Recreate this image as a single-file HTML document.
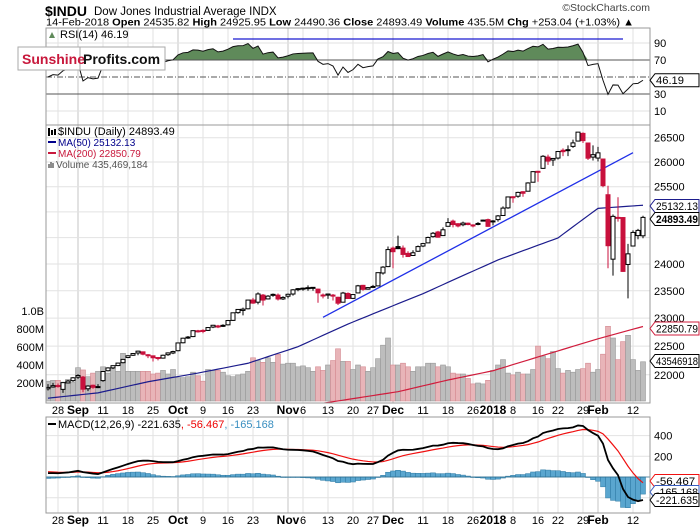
<!DOCTYPE html>
<html><head><meta charset="utf-8">
<style>
html,body{margin:0;padding:0;background:#fff;width:700px;height:530px;overflow:hidden;font-family:"Liberation Sans",sans-serif;}
svg text{font-family:"Liberation Sans",sans-serif;}
</style></head>
<body>
<svg id="chart" width="700" height="530" viewBox="0 0 700 530" xmlns="http://www.w3.org/2000/svg">
<defs>
<clipPath id="clipMain"><rect x="46" y="125" width="604" height="278"/></clipPath>
<clipPath id="clipRsi"><rect x="46" y="28" width="604" height="97"/></clipPath>
<clipPath id="clipMacd"><rect x="46" y="417" width="604" height="96"/></clipPath>
</defs>
<g id="grid"></g>
<g id="marks"></g>
<g id="frames">
<rect x="46" y="28" width="604" height="97" fill="none" stroke="#999"/>
<rect x="46" y="125" width="604" height="278" fill="none" stroke="#999"/>
<rect x="46" y="417" width="604" height="96" fill="none" stroke="#999"/>
</g>
<g>
<text x="45" y="16" font-size="14" font-weight="bold">$INDU</text>
<text x="94" y="15" font-size="11.5">Dow Jones Industrial Average  INDX</text>
<text x="46" y="25.5" font-size="10.5" textLength="588" lengthAdjust="spacingAndGlyphs">14-Feb-2018  <tspan font-weight="bold">Open</tspan> 24535.82  <tspan font-weight="bold">High</tspan> 24925.95  <tspan font-weight="bold">Low</tspan> 24490.36  <tspan font-weight="bold">Close</tspan> 24893.49  <tspan font-weight="bold">Volume</tspan> 435.5M  <tspan font-weight="bold">Chg</tspan> +253.04 (+1.03%) ▲</text>
<text x="650" y="11" font-size="10.5" text-anchor="end" fill="#444">©StockCharts.com</text>
</g>
<g>
<rect x="18" y="47" width="147" height="23" fill="#fff" stroke="#aaa"/>
<line x1="80" y1="47" x2="80" y2="70" stroke="#aaa"/>
<text x="22" y="64" font-size="14" font-weight="bold" fill="#c8183c">Sunshine</text>
<text x="83" y="64" font-size="14" font-weight="bold" fill="#111">Profits.com</text>
</g>
<g>
<text x="60" y="38" font-size="11">RSI(14) 46.19</text>
<path d="M49 38 l3-6 l3 6z" fill="#5f8a5a"/>
<text x="58" y="135" font-size="11">$INDU (Daily) 24893.49</text>
<path d="M49 128v8M52 130v5M55 129v6" stroke="#000" stroke-width="2"/>
<line x1="48" y1="142" x2="56" y2="142" stroke="#00008b" stroke-width="2"/>
<text x="58" y="146" font-size="10" fill="#00008b">MA(50) 25132.13</text>
<line x1="48" y1="153" x2="56" y2="153" stroke="#c8183c" stroke-width="2"/>
<text x="58" y="157" font-size="10" fill="#c8183c">MA(200) 22850.79</text>
<path d="M49 168v-4M51 168v-6M53 168v-5" stroke="#666" stroke-width="1.5"/>
<text x="56" y="168" font-size="10" fill="#555">Volume 435,469,184</text>
<line x1="48" y1="424" x2="56" y2="424" stroke="#000" stroke-width="2"/>
<text x="58" y="428" font-size="11">MACD(12,26,9) -221.635<tspan fill="#e00">, -56.467</tspan><tspan fill="#3a8fc0">, -165.168</tspan></text>
</g>
<g id="axes"></g>
</svg>
<script>
// ---- data ----
const closes = [21783,21813,21808,21865,21892,21948,
21988,21753,21807,21785,21797,22057,22119,22158,22203,22268,22331,22370,22412,22359,22349,22296,22284,22340,22381,22405,
22557,22641,22661,22775,22773,22761,22831,22872,22841,22871,22957,23097,23158,23163,23329,23274,23441,23329,23401,23434,23349,23377,
23435,23517,23539,23548,23557,23563,23462,23422,23440,23409,23272,23458,23358,23430,23591,23526,23558,23580,23836,23940,24272,
24232,24290,24180,24140,24211,24329,24386,24504,24585,24509,24652,24792,24754,24726,24782,24754,24746,24775,24838,24719,
24824,24922,25075,25296,25283,25386,25369,25575,25803,25792,26116,26018,26072,26214,26211,26252,26392,26616,26439,26077,26149,
26187,25521,24346,24913,24893,23860,24191,24601,24640,24893];
const opens = [21760,21790,21815,21750,21860,21900,
21960,21960,21760,21820,21790,21900,22070,22120,22160,22210,22300,22340,22380,22400,22340,22330,22300,22290,22350,22380,
22420,22560,22660,22670,22770,22780,22780,22840,22860,22860,22880,22960,23100,23140,23170,23330,23290,23420,23350,23420,23420,23350,
23400,23440,23520,23540,23550,23560,23530,23420,23420,23420,23380,23290,23450,23360,23460,23600,23530,23570,23590,23830,23950,
24300,24330,24300,24200,24160,24240,24340,24400,24520,24610,24540,24720,24820,24770,24750,24780,24740,24760,24840,24850,
24810,24850,24930,25080,25300,25310,25400,25410,25590,25810,25870,26100,26040,26080,26240,26240,26320,26430,26590,26390,26100,
26080,26060,25340,24090,24890,24890,23990,24340,24540,24536];
const highs = [21840,21860,21850,21870,21910,21960,
22010,21980,21820,21830,21840,22060,22130,22160,22210,22270,22340,22380,22420,22400,22360,22330,22310,22350,22390,22420,
22560,22650,22680,22780,22790,22800,22840,22880,22880,22890,22960,23100,23160,23190,23330,23370,23470,23440,23420,23450,23450,23400,
23450,23530,23550,23560,23600,23570,23540,23450,23450,23440,23390,23480,23470,23440,23610,23610,23570,23610,23840,23960,24330,
24330,24540,24350,24240,24260,24350,24400,24520,24610,24630,24700,24880,24850,24780,24810,24790,24760,24800,24850,24870,
24840,24940,25110,25300,25310,25400,25410,25590,25810,25820,26140,26150,26080,26220,26280,26340,26460,26620,26610,26400,26340,
26310,26060,25520,24950,25290,24900,24380,24640,24670,24926];
const lows = [21730,21780,21780,21690,21850,21880,
21930,21700,21720,21760,21770,21880,22060,22100,22150,22200,22290,22330,22340,22340,22290,22230,22250,22280,22330,22360,
22410,22550,22630,22660,22740,22730,22770,22820,22820,22840,22870,22950,23080,23050,23160,23260,23250,23230,23340,23390,23320,23330,
23360,23410,23490,23500,23500,23500,23280,23360,23350,23320,23240,23290,23350,23350,23460,23500,23520,23560,23580,23800,23940,
23920,24280,24120,24130,24150,24230,24320,24400,24500,24500,24540,24720,24700,24700,24720,24740,24700,24740,24820,24710,
24740,24810,24920,25060,25180,25280,25300,25410,25590,25600,25860,25940,25920,26050,26120,26120,26290,26420,26390,26040,26030,
26010,25490,23920,23780,24810,23850,23360,24340,24470,24490];
const volumes = [220,230,230,210,240,210,
370,345,270,310,330,380,310,360,330,530,330,330,330,330,330,300,310,340,300,350,
260,260,270,320,280,220,350,340,340,320,280,270,290,300,330,480,450,430,480,430,520,410,
420,420,380,390,370,330,380,340,400,450,580,440,440,350,400,380,330,370,470,620,700,
400,400,420,380,330,380,380,420,420,380,400,380,310,300,300,250,190,200,190,230,
340,400,460,310,290,320,300,300,350,610,500,470,550,360,310,340,320,350,360,420,320,
350,520,830,700,460,660,730,460,340,436];
const ma50Idx = [0,10,20,30,40,50,60,75,90,102,110,119];
const ma50Val = [21600,21690,21880,22030,22200,22490,22894,23446,24075,24495,25070,25132];
const ma200Idx = [0,20,40,57,70,80,89,98,110,119];
const ma200Val = [20950,21120,21320,21540,21710,21910,22070,22310,22630,22850];
const trendIdx = [55,117];
const trendVal = [23015,26190];
const dateLabels = ["28","Sep","11","18","25","Oct","9","16","23","Nov","6","13","20","27","Dec","11","18","26","2018","8","16","22","29","Feb","12"];
const dateLabelIdx = [2,6,11,16,21,26,31,36,41,48,51,56,61,65,69,75,80,85,89,93,98,102,107,110,117];
const monthLabels = ["Sep","Oct","Nov","Dec","2018","Feb"];
const priceTicks = [26500,26000,25500,25000,24500,24000,23500,23000,22500,22000];
const volTicks = [200,400,600,800,1000];
const volTickLabels = ["200M","400M","600M","800M","1.0B"];
const rsiTicks = [90,70,50,30,10];
const macdTicks = [400,200,0,-200];

// ---- axis functions ----
const X = i => 48 + 5*i;
const PY = p => 137.7 + 1274*Math.log(26500/p);
const VY = v => 401 - v*0.09;
const MY = v => 477 - v*0.1035;
const RY = v => 77 - (v-50)*0.85;
const NS = "http://www.w3.org/2000/svg";
function mk(tag, attrs, parent){const e=document.createElementNS(NS,tag);for(const k in attrs)e.setAttribute(k,attrs[k]);parent.appendChild(e);return e;}
const grid=document.getElementById('grid'), marks=document.getElementById('marks'), axes=document.getElementById('axes');

dateLabelIdx.forEach((d,k)=>{
  const strong = monthLabels.includes(dateLabels[k]);
  const c = strong ? "#c4c4c4" : "#e2e2e2";
  [[28,125],[125,403],[417,513]].forEach(r=>mk('line',{x1:X(d),x2:X(d),y1:r[0],y2:r[1],stroke:c},grid));
});
priceTicks.forEach(p=>mk('line',{x1:46,x2:650,y1:PY(p),y2:PY(p),stroke:"#e2e2e2"},grid));
macdTicks.forEach(v=>mk('line',{x1:46,x2:650,y1:MY(v),y2:MY(v),stroke:"#e2e2e2"},grid));
[90,10].forEach(v=>mk('line',{x1:46,x2:650,y1:RY(v),y2:RY(v),stroke:"#e2e2e2"},grid));

const rsi=[]; let ag=20, al=20;
closes.forEach((c,i)=>{ if(i>0){const d=c-closes[i-1]; ag=(ag*13+Math.max(d,0))/14; al=(al*13+Math.max(-d,0))/14;} rsi.push(100-100/(1+ag/al)); });
const macd=[], sig=[]; let e12=21780, e26=21740, s=55;
closes.forEach((c,i)=>{ e12=e12+(c-e12)*2/13; e26=e26+(c-e26)*2/27; const m=e12-e26; s=s+(m-s)*0.2; macd.push(m); sig.push(s); });

const rg=mk('g',{'clip-path':'url(#clipRsi)'},marks);


let fill="M"+X(0)+" "+RY(70);
rsi.forEach((v,i)=>{fill+=" L"+X(i)+" "+Math.min(RY(v),RY(70));});
fill+=" L"+X(rsi.length-1)+" "+RY(70)+"Z";
const rf=mk('path',{d:fill,fill:"#5f8a5a",stroke:"none"},rg);


mk('line',{x1:46,x2:650,y1:RY(70),y2:RY(70),stroke:"#555"},rg);
mk('line',{x1:46,x2:650,y1:RY(30),y2:RY(30),stroke:"#555"},rg);
mk('line',{x1:46,x2:650,y1:RY(50),y2:RY(50),stroke:"#555","stroke-dasharray":"6,2,1,2"},rg);
const rl=mk('polyline',{points:rsi.map((v,i)=>X(i)+","+RY(v)).join(" "),fill:"none",stroke:"#111"},rg);


const bl=mk('line',{x1:233,x2:623,y1:39,y2:39,stroke:"#1a1ad0","stroke-width":1.3},rg);



const mg=mk('g',{'clip-path':'url(#clipMain)'},marks);


volumes.forEach((v,i)=>{
  const down = i>0 && closes[i]<closes[i-1];
  const b=mk('rect',{x:X(i)-2.5,y:VY(v),width:5,height:401-VY(v),fill:down?"#e8b4b8":"#bdbdbd",stroke:down?"#d48a92":"#999","stroke-width":0.6},mg);
  
  
});
function interp(idx,val){const out=[];for(let i=0;i<closes.length;i++){let k=0;while(k<idx.length-2&&i>idx[k+1])k++;const t=(i-idx[k])/(idx[k+1]-idx[k]);out.push(val[k]+(val[k+1]-val[k])*t);}return out;}
const ma50=interp(ma50Idx,ma50Val), ma200=interp(ma200Idx,ma200Val);
const l200=mk('polyline',{points:ma200.map((v,i)=>X(i)+","+PY(v)).join(" "),fill:"none",stroke:"#d01c3c","stroke-width":1.2},mg);


const l50=mk('polyline',{points:ma50.map((v,i)=>X(i)+","+PY(v)).join(" "),fill:"none",stroke:"#1c1c8c","stroke-width":1.2},mg);


const tl=mk('line',{x1:X(trendIdx[0]),y1:PY(trendVal[0]),x2:X(trendIdx[1]),y2:PY(trendVal[1]),stroke:"#2030e8","stroke-width":1.3},mg);


closes.forEach((c,i)=>{
  const o=opens[i], up=c>=o, down=i>0&&c<closes[i-1];
  const col=down?"#c8103c":"#000";
  const cg=mk('g',{},mg);
  
  
  mk('line',{x1:X(i),x2:X(i),y1:PY(highs[i]),y2:PY(lows[i]),stroke:col},cg);
  const top=PY(Math.max(o,c)), bot=PY(Math.min(o,c));
  mk('rect',{x:X(i)-2,y:top,width:4,height:Math.max(bot-top,1),fill:up?"#fff":col,stroke:col,"stroke-width":1},cg);
});

const gg=mk('g',{'clip-path':'url(#clipMacd)'},marks);


macd.forEach((m,i)=>{
  const h=m-sig[i], y0=MY(0), y1=MY(h);
  const b=mk('rect',{x:X(i)-2.5,y:Math.min(y0,y1),width:5,height:Math.max(Math.abs(y1-y0),0.5),fill:"#5aa6cf",stroke:"#2f7aa3","stroke-width":0.5},gg);
  
  
});
mk('line',{x1:46,x2:650,y1:MY(0),y2:MY(0),stroke:"#2f6f8f","stroke-width":0.8},gg);
const sl=mk('polyline',{points:sig.map((v,i)=>X(i)+","+MY(v)).join(" "),fill:"none",stroke:"#f01010","stroke-width":1.2},gg);


const ml=mk('polyline',{points:macd.map((v,i)=>X(i)+","+MY(v)).join(" "),fill:"none",stroke:"#000","stroke-width":1.8},gg);



function txt(x,y,s,o){const t=mk('text',Object.assign({x:x,y:y,'font-size':11},o||{}),axes);t.textContent=s;return t;}
priceTicks.forEach(p=>{if(p!==25000&&p!==24500){const t=txt(654,PY(p)+4,p);}});
volTicks.forEach((v,k)=>{const t=txt(44,VY(v)+4,volTickLabels[k],{'text-anchor':'end'});});
rsiTicks.forEach(v=>{if(v!==50){const t=txt(654,RY(v)+4,v);}});
macdTicks.forEach(v=>{if(v>0){const t=txt(654,MY(v)+4,v);}});
[414,524].forEach(y=>{dateLabelIdx.forEach((d,k)=>{
  const strong=monthLabels.includes(dateLabels[k]);
  const t=txt(X(d),y,dateLabels[k],{'text-anchor':'middle','font-weight':strong?'bold':'normal','font-size':strong?12:11});
  
  
});});
function tag(y,s,col,bold){
  const g=mk('g',{},axes);
  
  
  mk('path',{d:`M650 ${y} l5 -6.5 h44 v13 h-44z`,fill:"#fff",stroke:col},g);
  const w = Math.min(s.length*5.6, 42);
  const t=mk('text',{x:656,y:y+4,'font-size':11,'font-weight':bold?'bold':'normal',textLength:w,lengthAdjust:'spacingAndGlyphs'},g);t.textContent=s;
}
tag(RY(46.19),"46.19","#000");
tag(206,"25132.13","#1c1c8c");
tag(219,"24893.49","#000",true);
tag(328.5,"22850.79","#d01c3c");
tag(361,"43546918","#000");
tag(481,"-56.467","#f01010");
tag(492,"-165.168","#3a5fc0");
tag(500,"-221.635","#000");
</script>
</body></html>
